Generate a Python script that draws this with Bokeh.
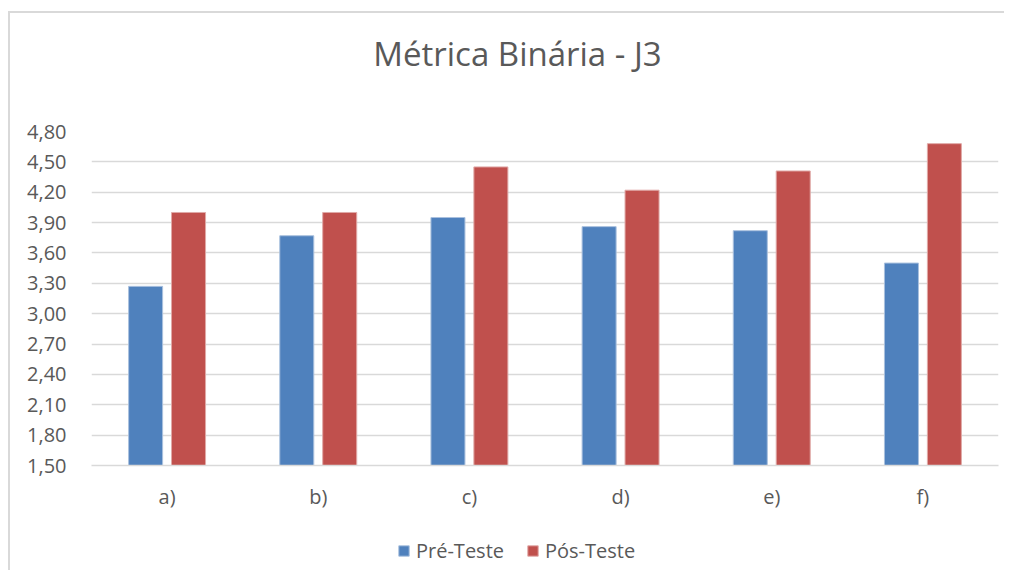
from bokeh.plotting import figure
from bokeh.layouts import column
from bokeh.models import FactorRange, Range1d, FixedTicker, Legend, LegendItem, ColumnDataSource, Label
from bokeh.transform import dodge
from bokeh.embed import file_html
from bokeh.resources import INLINE

categories = ["a)", "b)", "c)", "d)", "e)", "f)"]
pre_teste = [3.27, 3.77, 3.95, 3.86, 3.82, 3.50]
pos_teste = [4.00, 4.00, 4.45, 4.22, 4.41, 4.68]
y_ticks = [1.5, 1.8, 2.1, 2.4, 2.7, 3.0, 3.3, 3.6, 3.9, 4.2, 4.5, 4.8]
y_tick_labels = ["1,50", "1,80", "2,10", "2,40", "2,70", "3,00", "3,30", "3,60", "3,90", "4,20", "4,50", "4,80"]
series_names = ["Pré-Teste", "Pós-Teste"]
title_text = "Métrica Binária - J3"

FONT = "Open Sans"
TXT = "#595959"
GRID = "#d9d9d9"
BLUE = "#4F81BD"
RED = "#C0504D"
BLUE_EDGE = "#a9c0de"
RED_EDGE = "#e0a9a7"
BORDER = "2px solid #d9d9d9"

src = ColumnDataSource(dict(cat=categories, pre=pre_teste, pos=pos_teste))

# header strip with the title
h = figure(width=996, height=105, output_backend="svg", toolbar_location=None,
           x_range=Range1d(0, 1), y_range=Range1d(0, 1),
           x_axis_location=None, y_axis_location=None,
           min_border_left=0, min_border_right=0, min_border_top=0, min_border_bottom=0)
h.styles = {"margin-left": "8px", "margin-top": "11px", "border-left": BORDER, "border-top": BORDER}
h.grid.visible = False
h.outline_line_color = None
h.border_fill_color = "white"
h.add_layout(Label(x=426, y=65, x_units="screen", y_units="screen", text=title_text,
                   text_align="center", text_baseline="middle", text_font=FONT,
                   text_font_size="33px", text_color=TXT))

# main chart
p = figure(width=996, height=409, output_backend="svg", toolbar_location=None,
           x_range=FactorRange(factors=categories, range_padding=0),
           y_range=Range1d(y_ticks[0], y_ticks[-1]),
           min_border_left=81, min_border_right=8, min_border_top=15, min_border_bottom=60)
p.styles = {"margin-left": "8px", "border-left": BORDER}

r1 = p.vbar(x=dodge("cat", -0.142, range=p.x_range), top="pre", width=0.225, source=src,
            fill_color=BLUE, line_color=BLUE_EDGE, line_width=1)
r2 = p.vbar(x=dodge("cat", 0.142, range=p.x_range), top="pos", width=0.225, source=src,
            fill_color=RED, line_color=RED_EDGE, line_width=1)

p.outline_line_color = None
p.background_fill_color = "white"
p.border_fill_color = "white"

p.xgrid.grid_line_color = None
p.ygrid.grid_line_color = GRID
p.ygrid.grid_line_width = 1.5
p.ygrid.ticker = FixedTicker(ticks=y_ticks)

p.yaxis.ticker = FixedTicker(ticks=y_ticks)
p.yaxis.major_label_overrides = {t: l for t, l in zip(y_ticks, y_tick_labels)}
p.yaxis.axis_line_color = None
p.yaxis.major_tick_line_color = None
p.yaxis.minor_tick_line_color = None
p.yaxis.major_label_standoff = 19
p.yaxis.major_label_text_font = FONT
p.yaxis.major_label_text_font_size = "20px"
p.yaxis.major_label_text_color = TXT

p.xaxis.axis_line_color = GRID
p.xaxis.axis_line_width = 1.5
p.xaxis.major_tick_line_color = None
p.xaxis.minor_tick_line_color = None
p.xaxis.major_label_standoff = 11
p.xaxis.major_label_text_font = FONT
p.xaxis.major_label_text_font_size = "20px"
p.xaxis.major_label_text_color = TXT

# legend strip (same series; bars fall outside its y range so only the legend shows)
q = figure(width=996, height=45, output_backend="svg", toolbar_location=None,
           x_range=FactorRange(factors=categories, range_padding=0), y_range=Range1d(10, 11),
           x_axis_location=None, y_axis_location=None,
           min_border_left=0, min_border_right=0, min_border_top=0, min_border_bottom=0)
q.styles = {"margin-left": "8px", "border-left": BORDER}
q.grid.visible = False
q.outline_line_color = None
q.border_fill_color = "white"
l1 = q.vbar(x=dodge("cat", -0.142, range=q.x_range), top="pre", width=0.225, source=src,
            fill_color=BLUE, line_color=BLUE_EDGE)
l2 = q.vbar(x=dodge("cat", 0.142, range=q.x_range), top="pos", width=0.225, source=src,
            fill_color=RED, line_color=RED_EDGE)

legend = Legend(items=[LegendItem(label=series_names[0], renderers=[l1]),
                       LegendItem(label=series_names[1], renderers=[l2])],
                orientation="horizontal", location=(306, 6),
                glyph_width=13, glyph_height=13, label_standoff=6, spacing=22,
                label_text_font=FONT, label_text_font_size="20px", label_text_color=TXT,
                border_line_color=None, background_fill_alpha=0, margin=0, padding=5)
q.add_layout(legend, "center")

layout = column(h, p, q, spacing=0)
open("out.html", "w").write(file_html(layout, INLINE))
